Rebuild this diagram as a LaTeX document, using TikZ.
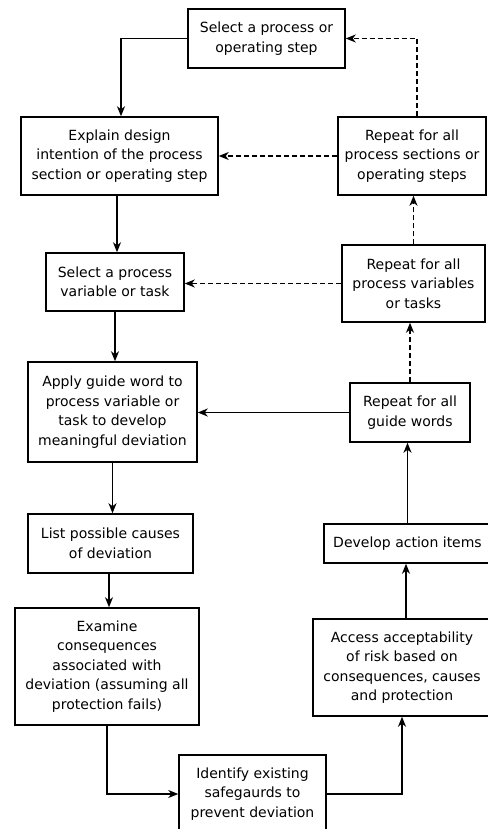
\documentclass[tikz,border=0pt]{standalone}
\usepackage{fontspec}
\setmainfont{DejaVu Sans}
\usetikzlibrary{arrows.meta,calc}
\begin{document}
\begin{tikzpicture}[x=1pt,y=-1pt,
  box/.style={draw,line width=1.5pt,rectangle,inner sep=0pt,align=center,
    font=\fontsize{14}{19.5}\selectfont},
  conn/.style={line width=1.5pt,-{Stealth[length=10pt,width=8pt,inset=3pt]}},
  dconn/.style={conn,dash pattern=on 5pt off 3pt}]
\useasboundingbox[fill=white] (0,0) rectangle (487,829);
\node[box,minimum width=157pt,minimum height=59pt] (b1) at (266.5,38.5) {Select a process or\\operating step};
\node[box,minimum width=197pt,minimum height=78pt] (b2) at (119.5,156) {Explain design\\intention of the process\\section or operating step};
\node[box,minimum width=138pt,minimum height=58pt] (b3) at (115,282) {Select a process\\variable or task};
\node[box,minimum width=169pt,minimum height=100pt] (b4) at (112.5,412) {Apply guide word to\\process variable or\\task to develop\\meaningful deviation};
\node[box,minimum width=165pt,minimum height=59pt] (b5) at (110.5,543.5) {List possible causes\\of deviation};
\node[box,minimum width=184pt,minimum height=117pt] (b6) at (107,666.5) {Examine\\consequences\\associated with\\deviation (assuming all\\protection fails)};
\node[box,minimum width=147pt,minimum height=78pt] (b7) at (252.5,794) {Identify existing\\safegaurds to\\prevent deviation};
\node[box,minimum width=148pt,minimum height=78pt] (r1) at (412,156) {Repeat for all\\process sections or\\operating steps};
\node[box,minimum width=143pt,minimum height=77pt] (r2) at (413.5,283.5) {Repeat for all\\process variables\\or tasks};
\node[box,minimum width=120pt,minimum height=59pt] (r3) at (410,412.5) {Repeat for all\\guide words};
\node[box,minimum width=167pt,minimum height=39pt] (dev) at (407.5,543.5) {Develop action items};
\node[box,minimum width=178pt,minimum height=97pt] (acc) at (402,667.5) {Access acceptability\\of risk based on\\consequences, causes\\and protection};
% solid flow
\draw[conn] (b1.west) -| ([xshift=1.5pt]b2.north);
\draw[conn] ([xshift=-2.5pt]b2.south) -- ([xshift=-2.5pt]b2.south |- b3.north);
\draw[conn] (b3.south) -- (b3.south |- b4.north);
\draw[conn] (b4.south) -- (b4.south |- b5.north);
\draw[conn] ([xshift=-1.5pt]b5.south) -- ([xshift=-1.5pt]b5.south |- b6.north);
\draw[conn] (b6.south) |- (b7.west);
\draw[conn] (b7.east) -| (acc.south);
\draw[conn] ([xshift=4pt]acc.north) -- ([xshift=4pt]acc.north |- dev.south);
\draw[conn] (dev.north) -- (dev.north |- r3.south);
\draw[conn] (r3.west) -- (r3.west -| b4.east);
% dashed loops
\draw[dconn] (r3.north) -- (r3.north |- r2.south);
\draw[dconn] (r2.north) -- (r2.north |- r1.south);
\draw[dconn] ([xshift=5pt]r1.north) |- (b1.east);
\draw[dconn] (r1.west) -- (b2.east);
\draw[dconn] (r2.west) -- (r2.west -| b3.east);
\end{tikzpicture}
\end{document}
